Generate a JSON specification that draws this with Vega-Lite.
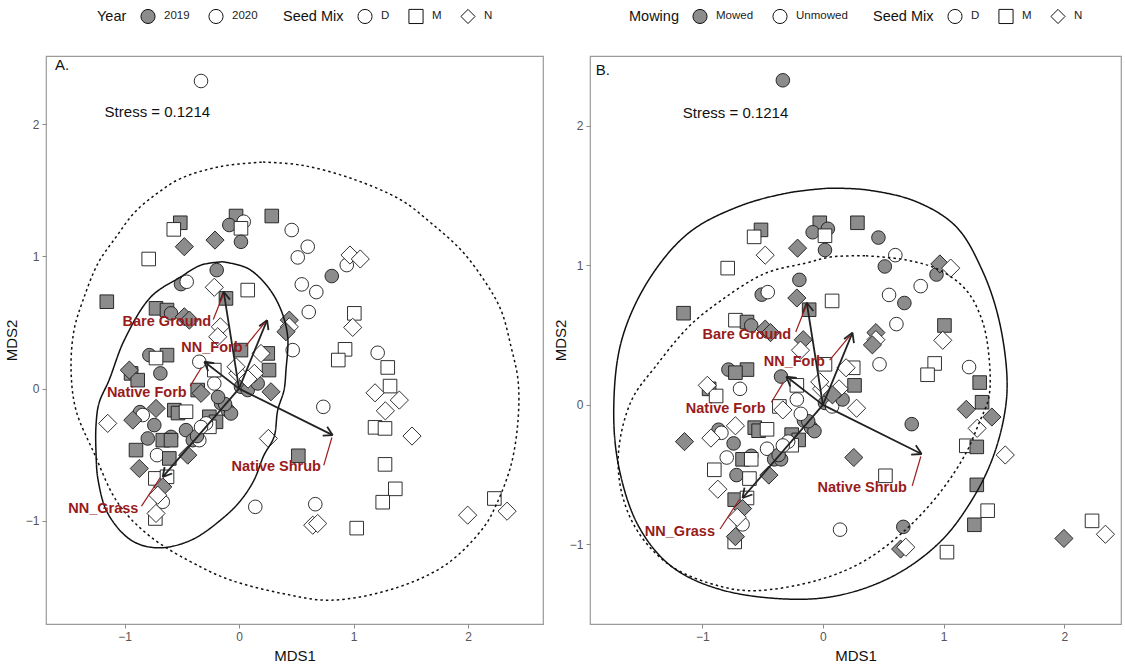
{
 "$schema": "https://vega.github.io/schema/vega-lite/v6.json",
 "padding": {"left": 3, "top": 7, "right": 2, "bottom": 2},
 "spacing": 8,
 "datasets": {
  "pts": [
   {"x":-0.332,"y":2.326,"m":"D","yr":"2020","mw":"Mowed"},
   {"x":-0.513,"y":1.254,"m":"M","yr":"2019","mw":"Mowed"},
   {"x":-0.570,"y":1.204,"m":"M","yr":"2020","mw":"Unmowed"},
   {"x":-0.026,"y":1.305,"m":"M","yr":"2019","mw":"Mowed"},
   {"x":-0.085,"y":1.237,"m":"D","yr":"2019","mw":"Mowed"},
   {"x":0.041,"y":1.262,"m":"D","yr":"2020","mw":"Mowed"},
   {"x":0.017,"y":1.212,"m":"M","yr":"2020","mw":"Unmowed"},
   {"x":0.017,"y":1.110,"m":"D","yr":"2019","mw":"Mowed"},
   {"x":0.286,"y":1.305,"m":"M","yr":"2019","mw":"Mowed"},
   {"x":0.460,"y":1.199,"m":"D","yr":"2020","mw":"Mowed"},
   {"x":-0.478,"y":1.073,"m":"N","yr":"2019","mw":"Unmowed"},
   {"x":-0.210,"y":1.123,"m":"N","yr":"2019","mw":"Mowed"},
   {"x":-0.789,"y":0.980,"m":"M","yr":"2020","mw":"Unmowed"},
   {"x":-0.195,"y":0.896,"m":"D","yr":"2019","mw":"Mowed"},
   {"x":-0.507,"y":0.790,"m":"D","yr":"2019","mw":"Mowed"},
   {"x":-0.457,"y":0.808,"m":"D","yr":"2020","mw":"Unmowed"},
   {"x":-0.216,"y":0.766,"m":"N","yr":"2020","mw":"Mowed"},
   {"x":-0.114,"y":0.682,"m":"M","yr":"2019","mw":"Mowed"},
   {"x":0.076,"y":0.745,"m":"M","yr":"2020","mw":"Unmowed"},
   {"x":-1.155,"y":0.657,"m":"M","yr":"2019","mw":"Mowed"},
   {"x":-0.725,"y":0.607,"m":"M","yr":"2019","mw":"Unmowed"},
   {"x":-0.629,"y":0.594,"m":"M","yr":"2019","mw":"Mowed"},
   {"x":-0.594,"y":0.569,"m":"D","yr":"2019","mw":"Mowed"},
   {"x":-0.478,"y":0.543,"m":"N","yr":"2019","mw":"Mowed"},
   {"x":-0.434,"y":0.518,"m":"N","yr":"2019","mw":"Mowed"},
   {"x":-0.163,"y":0.467,"m":"N","yr":"2020","mw":"Mowed"},
   {"x":-0.186,"y":0.392,"m":"N","yr":"2020","mw":"Unmowed"},
   {"x":0.439,"y":0.518,"m":"N","yr":"2019","mw":"Mowed"},
   {"x":0.439,"y":0.467,"m":"N","yr":"2020","mw":"Unmowed"},
   {"x":0.410,"y":0.430,"m":"N","yr":"2019","mw":"Mowed"},
   {"x":0.469,"y":0.291,"m":"D","yr":"2020","mw":"Unmowed"},
   {"x":0.017,"y":0.291,"m":"M","yr":"2019","mw":"Unmowed"},
   {"x":0.192,"y":0.266,"m":"N","yr":"2020","mw":"Unmowed"},
   {"x":0.251,"y":0.266,"m":"M","yr":"2019","mw":"Unmowed"},
   {"x":0.262,"y":0.140,"m":"M","yr":"2019","mw":"Mowed"},
   {"x":0.600,"y":1.073,"m":"D","yr":"2020","mw":"Unmowed"},
   {"x":0.513,"y":0.992,"m":"D","yr":"2020","mw":"Mowed"},
   {"x":0.810,"y":0.851,"m":"D","yr":"2019","mw":"Unmowed"},
   {"x":0.941,"y":0.934,"m":"D","yr":"2020","mw":"Mowed"},
   {"x":0.969,"y":1.010,"m":"N","yr":"2020","mw":"Mowed"},
   {"x":1.059,"y":0.980,"m":"N","yr":"2020","mw":"Unmowed"},
   {"x":0.548,"y":0.788,"m":"D","yr":"2020","mw":"Unmowed"},
   {"x":0.675,"y":0.730,"m":"D","yr":"2020","mw":"Mowed"},
   {"x":0.609,"y":0.579,"m":"D","yr":"2020","mw":"Unmowed"},
   {"x":1.007,"y":0.569,"m":"M","yr":"2020","mw":"Mowed"},
   {"x":0.993,"y":0.463,"m":"N","yr":"2020","mw":"Unmowed"},
   {"x":0.926,"y":0.297,"m":"M","yr":"2020","mw":"Unmowed"},
   {"x":0.867,"y":0.216,"m":"M","yr":"2020","mw":"Unmowed"},
   {"x":1.211,"y":0.271,"m":"D","yr":"2020","mw":"Unmowed"},
   {"x":1.299,"y":0.160,"m":"M","yr":"2020","mw":"Mowed"},
   {"x":1.188,"y":-0.032,"m":"N","yr":"2020","mw":"Mowed"},
   {"x":1.319,"y":0.019,"m":"M","yr":"2020","mw":"Mowed"},
   {"x":1.400,"y":-0.087,"m":"N","yr":"2020","mw":"Mowed"},
   {"x":1.278,"y":-0.168,"m":"N","yr":"2020","mw":"Unmowed"},
   {"x":1.188,"y":-0.293,"m":"M","yr":"2020","mw":"Unmowed"},
   {"x":1.275,"y":-0.301,"m":"M","yr":"2020","mw":"Mowed"},
   {"x":1.511,"y":-0.359,"m":"N","yr":"2020","mw":"Unmowed"},
   {"x":0.736,"y":-0.138,"m":"D","yr":"2020","mw":"Mowed"},
   {"x":0.256,"y":-0.377,"m":"N","yr":"2020","mw":"Mowed"},
   {"x":0.518,"y":-0.508,"m":"M","yr":"2019","mw":"Unmowed"},
   {"x":1.275,"y":-0.573,"m":"M","yr":"2020","mw":"Mowed"},
   {"x":1.365,"y":-0.758,"m":"M","yr":"2020","mw":"Unmowed"},
   {"x":1.255,"y":-0.859,"m":"M","yr":"2020","mw":"Mowed"},
   {"x":0.142,"y":-0.894,"m":"D","yr":"2020","mw":"Unmowed"},
   {"x":0.666,"y":-0.874,"m":"D","yr":"2020","mw":"Mowed"},
   {"x":0.644,"y":-1.033,"m":"N","yr":"2020","mw":"Mowed"},
   {"x":0.687,"y":-1.020,"m":"N","yr":"2020","mw":"Unmowed"},
   {"x":1.028,"y":-1.055,"m":"M","yr":"2020","mw":"Unmowed"},
   {"x":2.230,"y":-0.831,"m":"M","yr":"2020","mw":"Unmowed"},
   {"x":1.997,"y":-0.957,"m":"N","yr":"2020","mw":"Mowed"},
   {"x":2.341,"y":-0.927,"m":"N","yr":"2020","mw":"Unmowed"},
   {"x":-0.943,"y":0.115,"m":"M","yr":"2019","mw":"Mowed"},
   {"x":-0.885,"y":0.064,"m":"M","yr":"2019","mw":"Unmowed"},
   {"x":-0.687,"y":0.115,"m":"D","yr":"2019","mw":"Unmowed"},
   {"x":-0.332,"y":-0.036,"m":"N","yr":"2019","mw":"Unmowed"},
   {"x":-0.361,"y":-0.011,"m":"M","yr":"2019","mw":"Unmowed"},
   {"x":-0.011,"y":0.115,"m":"N","yr":"2020","mw":"Unmowed"},
   {"x":0.279,"y":-0.024,"m":"N","yr":"2019","mw":"Unmowed"},
   {"x":-1.147,"y":-0.263,"m":"N","yr":"2020","mw":"Mowed"},
   {"x":-0.725,"y":-0.150,"m":"N","yr":"2019","mw":"Unmowed"},
   {"x":-0.928,"y":-0.238,"m":"N","yr":"2019","mw":"Unmowed"},
   {"x":-0.865,"y":-0.178,"m":"D","yr":"2019","mw":"Mowed"},
   {"x":-0.841,"y":-0.200,"m":"D","yr":"2020","mw":"Unmowed"},
   {"x":-0.565,"y":-0.163,"m":"M","yr":"2019","mw":"Mowed"},
   {"x":-0.533,"y":-0.185,"m":"M","yr":"2019","mw":"Mowed"},
   {"x":-0.463,"y":-0.175,"m":"M","yr":"2020","mw":"Unmowed"},
   {"x":-0.740,"y":-0.276,"m":"D","yr":"2019","mw":"Mowed"},
   {"x":-0.797,"y":-0.377,"m":"D","yr":"2019","mw":"Unmowed"},
   {"x":-0.594,"y":-0.365,"m":"D","yr":"2019","mw":"Mowed"},
   {"x":-0.463,"y":-0.314,"m":"D","yr":"2019","mw":"Unmowed"},
   {"x":-0.404,"y":-0.390,"m":"D","yr":"2019","mw":"Mowed"},
   {"x":-0.666,"y":-0.390,"m":"M","yr":"2019","mw":"Mowed"},
   {"x":-0.594,"y":-0.390,"m":"M","yr":"2019","mw":"Unmowed"},
   {"x":-0.347,"y":-0.390,"m":"D","yr":"2020","mw":"Mowed"},
   {"x":-0.716,"y":-0.503,"m":"D","yr":"2020","mw":"Mowed"},
   {"x":-0.900,"y":-0.465,"m":"M","yr":"2019","mw":"Unmowed"},
   {"x":-0.609,"y":-0.528,"m":"M","yr":"2019","mw":"Unmowed"},
   {"x":-0.448,"y":-0.503,"m":"N","yr":"2019","mw":"Mowed"},
   {"x":-0.871,"y":-0.604,"m":"N","yr":"2019","mw":"Unmowed"},
   {"x":-0.731,"y":-0.679,"m":"M","yr":"2020","mw":"Mowed"},
   {"x":-0.629,"y":-0.667,"m":"M","yr":"2020","mw":"Unmowed"},
   {"x":-0.666,"y":-0.743,"m":"N","yr":"2019","mw":"Mowed"},
   {"x":-0.710,"y":-0.806,"m":"N","yr":"2020","mw":"Unmowed"},
   {"x":-0.666,"y":-0.856,"m":"D","yr":"2020","mw":"Unmowed"},
   {"x":-0.725,"y":-0.944,"m":"N","yr":"2020","mw":"Mowed"},
   {"x":-0.731,"y":-0.982,"m":"M","yr":"2020","mw":"Unmowed"},
   {"x":-0.259,"y":-0.213,"m":"M","yr":"2019","mw":"Mowed"},
   {"x":-0.201,"y":-0.251,"m":"M","yr":"2019","mw":"Mowed"},
   {"x":-0.259,"y":-0.289,"m":"M","yr":"2020","mw":"Unmowed"},
   {"x":-0.288,"y":-0.263,"m":"D","yr":"2020","mw":"Unmowed"},
   {"x":-0.157,"y":-0.112,"m":"D","yr":"2019","mw":"Mowed"},
   {"x":-0.099,"y":-0.163,"m":"D","yr":"2019","mw":"Mowed"},
   {"x":-0.070,"y":-0.188,"m":"D","yr":"2019","mw":"Mowed"},
   {"x":0.017,"y":0.014,"m":"D","yr":"2019","mw":"Mowed"},
   {"x":0.076,"y":-0.011,"m":"D","yr":"2019","mw":"Unmowed"},
   {"x":0.163,"y":0.039,"m":"D","yr":"2019","mw":"Mowed"},
   {"x":-0.216,"y":0.039,"m":"D","yr":"2020","mw":"Unmowed"},
   {"x":-0.347,"y":0.203,"m":"D","yr":"2020","mw":"Mowed"},
   {"x":-0.216,"y":0.140,"m":"M","yr":"2020","mw":"Unmowed"},
   {"x":-0.026,"y":0.165,"m":"N","yr":"2020","mw":"Unmowed"},
   {"x":0.134,"y":0.115,"m":"N","yr":"2020","mw":"Unmowed"},
   {"x":-0.783,"y":0.253,"m":"D","yr":"2019","mw":"Mowed"},
   {"x":-0.629,"y":0.253,"m":"M","yr":"2019","mw":"Mowed"},
   {"x":-0.725,"y":0.231,"m":"M","yr":"2020","mw":"Mowed"},
   {"x":-0.958,"y":0.140,"m":"N","yr":"2019","mw":"Unmowed"},
   {"x":-0.367,"y":-0.359,"m":"D","yr":"2019","mw":"Mowed"},
   {"x":-0.332,"y":-0.291,"m":"D","yr":"2020","mw":"Unmowed"},
   {"x":-0.122,"y":-0.117,"m":"D","yr":"2019","mw":"Mowed"},
   {"x":-0.183,"y":-0.064,"m":"D","yr":"2019","mw":"Unmowed"},
   {"x":0.079,"y":0.072,"m":"N","yr":"2020","mw":"Mowed"}
  ],
  "ell": [
   {"p":"A","e":"s","i":0,"x":-0.142,"y":0.959},
   {"p":"A","e":"s","i":1,"x":0.076,"y":0.909},
   {"p":"A","e":"s","i":2,"x":0.251,"y":0.770},
   {"p":"A","e":"s","i":3,"x":0.367,"y":0.594},
   {"p":"A","e":"s","i":4,"x":0.425,"y":0.392},
   {"p":"A","e":"s","i":5,"x":0.410,"y":0.140},
   {"p":"A","e":"s","i":6,"x":0.393,"y":-0.011},
   {"p":"A","e":"s","i":7,"x":0.338,"y":-0.163},
   {"p":"A","e":"s","i":8,"x":0.306,"y":-0.365},
   {"p":"A","e":"s","i":9,"x":0.218,"y":-0.503},
   {"p":"A","e":"s","i":10,"x":0.131,"y":-0.692},
   {"p":"A","e":"s","i":11,"x":0.017,"y":-0.843},
   {"p":"A","e":"s","i":12,"x":-0.128,"y":-0.970},
   {"p":"A","e":"s","i":13,"x":-0.419,"y":-1.146},
   {"p":"A","e":"s","i":14,"x":-0.710,"y":-1.204},
   {"p":"A","e":"s","i":15,"x":-0.943,"y":-1.146},
   {"p":"A","e":"s","i":16,"x":-1.147,"y":-0.942},
   {"p":"A","e":"s","i":17,"x":-1.231,"y":-0.692},
   {"p":"A","e":"s","i":18,"x":-1.249,"y":-0.488},
   {"p":"A","e":"s","i":19,"x":-1.249,"y":-0.276},
   {"p":"A","e":"s","i":20,"x":-1.223,"y":-0.110},
   {"p":"A","e":"s","i":21,"x":-1.135,"y":0.064},
   {"p":"A","e":"s","i":22,"x":-1.002,"y":0.367},
   {"p":"A","e":"s","i":23,"x":-0.769,"y":0.694},
   {"p":"A","e":"s","i":24,"x":-0.507,"y":0.846},
   {"p":"A","e":"s","i":25,"x":-0.332,"y":0.934},
   {"p":"A","e":"s","i":26,"x":-0.142,"y":0.959},
   {"p":"A","e":"d","i":0,"x":0.210,"y":1.713},
   {"p":"A","e":"d","i":1,"x":0.541,"y":1.690},
   {"p":"A","e":"d","i":2,"x":0.978,"y":1.590},
   {"p":"A","e":"d","i":3,"x":1.415,"y":1.426},
   {"p":"A","e":"d","i":4,"x":1.677,"y":1.252},
   {"p":"A","e":"d","i":5,"x":1.939,"y":1.048},
   {"p":"A","e":"d","i":6,"x":2.140,"y":0.820},
   {"p":"A","e":"d","i":7,"x":2.288,"y":0.594},
   {"p":"A","e":"d","i":8,"x":2.376,"y":0.316},
   {"p":"A","e":"d","i":9,"x":2.437,"y":0.064},
   {"p":"A","e":"d","i":10,"x":2.437,"y":-0.238},
   {"p":"A","e":"d","i":11,"x":2.376,"y":-0.578},
   {"p":"A","e":"d","i":12,"x":2.245,"y":-0.881},
   {"p":"A","e":"d","i":13,"x":2.140,"y":-1.045},
   {"p":"A","e":"d","i":14,"x":1.825,"y":-1.320},
   {"p":"A","e":"d","i":15,"x":1.389,"y":-1.502},
   {"p":"A","e":"d","i":16,"x":0.803,"y":-1.600},
   {"p":"A","e":"d","i":17,"x":0.367,"y":-1.547},
   {"p":"A","e":"d","i":18,"x":-0.070,"y":-1.449},
   {"p":"A","e":"d","i":19,"x":-0.332,"y":-1.350},
   {"p":"A","e":"d","i":20,"x":-0.769,"y":-1.123},
   {"p":"A","e":"d","i":21,"x":-1.057,"y":-0.866},
   {"p":"A","e":"d","i":22,"x":-1.266,"y":-0.488},
   {"p":"A","e":"d","i":23,"x":-1.424,"y":-0.163},
   {"p":"A","e":"d","i":24,"x":-1.467,"y":0.140},
   {"p":"A","e":"d","i":25,"x":-1.441,"y":0.443},
   {"p":"A","e":"d","i":26,"x":-1.362,"y":0.670},
   {"p":"A","e":"d","i":27,"x":-1.231,"y":0.949},
   {"p":"A","e":"d","i":28,"x":-1.074,"y":1.146},
   {"p":"A","e":"d","i":29,"x":-0.917,"y":1.328},
   {"p":"A","e":"d","i":30,"x":-0.725,"y":1.470},
   {"p":"A","e":"d","i":31,"x":-0.507,"y":1.590},
   {"p":"A","e":"d","i":32,"x":-0.157,"y":1.680},
   {"p":"A","e":"d","i":33,"x":0.210,"y":1.713},
   {"p":"B","e":"s","i":0,"x":0.050,"y":1.553},
   {"p":"B","e":"s","i":1,"x":0.357,"y":1.541},
   {"p":"B","e":"s","i":2,"x":0.771,"y":1.457},
   {"p":"B","e":"s","i":3,"x":1.103,"y":1.278},
   {"p":"B","e":"s","i":4,"x":1.318,"y":0.968},
   {"p":"B","e":"s","i":5,"x":1.459,"y":0.609},
   {"p":"B","e":"s","i":6,"x":1.526,"y":0.179},
   {"p":"B","e":"s","i":7,"x":1.501,"y":-0.084},
   {"p":"B","e":"s","i":8,"x":1.401,"y":-0.394},
   {"p":"B","e":"s","i":9,"x":1.235,"y":-0.681},
   {"p":"B","e":"s","i":10,"x":0.987,"y":-0.968},
   {"p":"B","e":"s","i":11,"x":0.630,"y":-1.204},
   {"p":"B","e":"s","i":12,"x":0.216,"y":-1.348},
   {"p":"B","e":"s","i":13,"x":-0.199,"y":-1.393},
   {"p":"B","e":"s","i":14,"x":-0.837,"y":-1.326},
   {"p":"B","e":"s","i":15,"x":-1.252,"y":-1.159},
   {"p":"B","e":"s","i":16,"x":-1.526,"y":-0.872},
   {"p":"B","e":"s","i":17,"x":-1.692,"y":-0.442},
   {"p":"B","e":"s","i":18,"x":-1.733,"y":-0.012},
   {"p":"B","e":"s","i":19,"x":-1.667,"y":0.466},
   {"p":"B","e":"s","i":20,"x":-1.443,"y":0.896},
   {"p":"B","e":"s","i":21,"x":-1.111,"y":1.233},
   {"p":"B","e":"s","i":22,"x":-0.697,"y":1.422},
   {"p":"B","e":"s","i":23,"x":-0.282,"y":1.520},
   {"p":"B","e":"s","i":24,"x":0.050,"y":1.553},
   {"p":"B","e":"d","i":0,"x":0.357,"y":1.068},
   {"p":"B","e":"d","i":1,"x":0.688,"y":1.039},
   {"p":"B","e":"d","i":2,"x":0.962,"y":0.968},
   {"p":"B","e":"d","i":3,"x":1.186,"y":0.824},
   {"p":"B","e":"d","i":4,"x":1.318,"y":0.609},
   {"p":"B","e":"d","i":5,"x":1.376,"y":0.346},
   {"p":"B","e":"d","i":6,"x":1.376,"y":0.059},
   {"p":"B","e":"d","i":7,"x":1.294,"y":-0.129},
   {"p":"B","e":"d","i":8,"x":1.186,"y":-0.344},
   {"p":"B","e":"d","i":9,"x":0.987,"y":-0.609},
   {"p":"B","e":"d","i":10,"x":0.713,"y":-0.872},
   {"p":"B","e":"d","i":11,"x":0.357,"y":-1.111},
   {"p":"B","e":"d","i":12,"x":-0.033,"y":-1.254},
   {"p":"B","e":"d","i":13,"x":-0.556,"y":-1.331},
   {"p":"B","e":"d","i":14,"x":-0.837,"y":-1.303},
   {"p":"B","e":"d","i":15,"x":-1.252,"y":-1.159},
   {"p":"B","e":"d","i":16,"x":-1.526,"y":-0.918},
   {"p":"B","e":"d","i":17,"x":-1.667,"y":-0.631},
   {"p":"B","e":"d","i":18,"x":-1.692,"y":-0.323},
   {"p":"B","e":"d","i":19,"x":-1.584,"y":0.036},
   {"p":"B","e":"d","i":20,"x":-1.387,"y":0.275},
   {"p":"B","e":"d","i":21,"x":-1.111,"y":0.561},
   {"p":"B","e":"d","i":22,"x":-0.837,"y":0.753},
   {"p":"B","e":"d","i":23,"x":-0.475,"y":0.944},
   {"p":"B","e":"d","i":24,"x":-0.143,"y":1.016},
   {"p":"B","e":"d","i":25,"x":0.075,"y":1.061},
   {"p":"B","e":"d","i":26,"x":0.357,"y":1.068}
  ],
  "arr": [
   {"x":0,"y":0,"x2":-0.134,"y2":0.732},
   {"x":0,"y":0,"x2":0.245,"y2":0.518},
   {"x":0,"y":0,"x2":-0.303,"y2":0.203},
   {"x":0,"y":0,"x2":0.818,"y2":-0.352},
   {"x":0,"y":0,"x2":-0.666,"y2":-0.667},
   {"x":-0.134,"y":0.732,"x2":-0.165,"y2":0.662},
   {"x":-0.134,"y":0.732,"x2":-0.079,"y2":0.673},
   {"x":0.245,"y":0.518,"x2":0.176,"y2":0.472},
   {"x":0.245,"y":0.518,"x2":0.257,"y2":0.443},
   {"x":-0.303,"y":0.203,"x2":-0.270,"y2":0.132},
   {"x":-0.303,"y":0.203,"x2":-0.217,"y2":0.193},
   {"x":0.818,"y":-0.352,"x2":0.770,"y2":-0.289},
   {"x":0.818,"y":-0.352,"x2":0.731,"y2":-0.356},
   {"x":-0.666,"y":-0.667,"x2":-0.584,"y2":-0.642},
   {"x":-0.666,"y":-0.667,"x2":-0.650,"y2":-0.593}
  ],
  "lead": [
   {"x":-0.225,"y":0.522,"x2":-0.138,"y2":0.712},
   {"x":0.056,"y":0.320,"x2":0.226,"y2":0.498},
   {"x":-0.427,"y":0.019,"x2":-0.328,"y2":0.160},
   {"x":0.740,"y":-0.580,"x2":0.811,"y2":-0.370},
   {"x":-0.852,"y":-0.889,"x2":-0.689,"y2":-0.674}
  ],
  "lab": [
   {"x":-0.630,"y":0.503,"t":"Bare Ground"},
   {"x":-0.237,"y":0.305,"t":"NN_Forb"},
   {"x":-0.806,"y":-0.031,"t":"Native Forb"},
   {"x":0.325,"y":-0.592,"t":"Native Shrub"},
   {"x":-1.185,"y":-0.910,"t":"NN_Grass"}
  ],
  "ann": [
   {"p":"A","x":-1.607,"y":2.447,"t":"A."},
   {"p":"A","x":-1.174,"y":2.094,"t":"Stress = 0.1214"},
   {"p":"B","x":-1.882,"y":2.401,"t":"B."},
   {"p":"B","x":-1.161,"y":2.093,"t":"Stress = 0.1214"}
  ]
 },
 "resolve": {
  "scale": {"x": "independent", "y": "independent", "color": "independent", "shape": "independent", "strokeDash": "independent"},
  "legend": {"color": "independent", "shape": "independent"}
 },
 "hconcat": [
  {
   "width": 497, "height": 568,
   "encoding": {
    "x": {"field": "x", "type": "quantitative", "title": "MDS1", "scale": {"domain": [-1.686, 2.655], "nice": false, "zero": false}, "axis": {"values": [-1, 0, 1, 2]}},
    "y": {"field": "y", "type": "quantitative", "title": "MDS2", "scale": {"domain": [-1.78, 2.515], "nice": false, "zero": false}, "axis": {"values": [-1, 0, 1, 2]}},
    "color": {"field": "yr", "type": "nominal", "title": "Year", "scale": {"domain": ["2019", "2020"], "range": ["#8c8c8c", "#ffffff"]}, "legend": {"symbolType": "circle"}},
    "shape": {"field": "m", "type": "nominal", "title": "Seed Mix", "scale": {"domain": ["D", "M", "N"], "range": ["circle", "square", "diamond"]}, "legend": {"symbolFillColor": "#ffffff"}}
   },
   "layer": [
    {"data": {"name": "pts"}, "transform": [{"filter": "datum.m !== 'N'"}], "mark": {"type": "point", "filled": true, "stroke": "#1a1a1a", "strokeWidth": 0.9, "opacity": 1, "size": 185}},
    {"data": {"name": "pts"}, "transform": [{"filter": "datum.m === 'N'"}], "mark": {"type": "point", "filled": true, "stroke": "#1a1a1a", "strokeWidth": 0.9, "opacity": 1, "size": 330}},
    {"data": {"name": "ell"}, "transform": [{"filter": "datum.p === 'A'"}], "mark": {"type": "line", "color": "#111111", "strokeWidth": 1.5, "interpolate": "catmull-rom"},
     "encoding": {"color": null, "shape": null, "order": {"field": "i", "type": "quantitative"}, "detail": {"field": "e", "type": "nominal"}, "strokeDash": {"field": "e", "type": "nominal", "scale": {"domain": ["s", "d"], "range": [[1, 0], [2.5, 3]]}, "legend": null}}},
    {"data": {"name": "arr"}, "mark": {"type": "rule", "color": "#222222", "strokeWidth": 1.8}, "encoding": {"color": null, "shape": null, "x2": {"field": "x2"}, "y2": {"field": "y2"}}},
    {"data": {"name": "lead"}, "mark": {"type": "rule", "color": "#9b1c1c", "strokeWidth": 1.2}, "encoding": {"color": null, "shape": null, "x2": {"field": "x2"}, "y2": {"field": "y2"}}},
    {"data": {"name": "lab"}, "mark": {"type": "text", "color": "#981b1b", "fontWeight": "bold", "fontSize": 14.5, "baseline": "middle", "align": "center"}, "encoding": {"color": null, "shape": null, "text": {"field": "t"}}},
    {"data": {"name": "ann"}, "transform": [{"filter": "datum.p === 'A'"}], "mark": {"type": "text", "align": "left", "baseline": "middle", "fontSize": 15, "color": "#111111"}, "encoding": {"color": null, "shape": null, "text": {"field": "t"}}}
   ]
  },
  {
   "width": 531, "height": 568,
   "encoding": {
    "x": {"field": "x", "type": "quantitative", "title": "MDS1", "scale": {"domain": [-1.93, 2.47], "nice": false, "zero": false}, "axis": {"values": [-1, 0, 1, 2]}},
    "y": {"field": "y", "type": "quantitative", "title": "MDS2", "scale": {"domain": [-1.57, 2.5], "nice": false, "zero": false}, "axis": {"values": [-1, 0, 1, 2], "titlePadding": 1}},
    "color": {"field": "mw", "type": "nominal", "title": "Mowing", "scale": {"domain": ["Mowed", "Unmowed"], "range": ["#8c8c8c", "#ffffff"]}, "legend": {"symbolType": "circle"}},
    "shape": {"field": "m", "type": "nominal", "title": "Seed Mix", "scale": {"domain": ["D", "M", "N"], "range": ["circle", "square", "diamond"]}, "legend": {"symbolFillColor": "#ffffff"}}
   },
   "layer": [
    {"data": {"name": "pts"}, "transform": [{"filter": "datum.m !== 'N'"}], "mark": {"type": "point", "filled": true, "stroke": "#1a1a1a", "strokeWidth": 0.9, "opacity": 1, "size": 185}},
    {"data": {"name": "pts"}, "transform": [{"filter": "datum.m === 'N'"}], "mark": {"type": "point", "filled": true, "stroke": "#1a1a1a", "strokeWidth": 0.9, "opacity": 1, "size": 330}},
    {"data": {"name": "ell"}, "transform": [{"filter": "datum.p === 'B'"}], "mark": {"type": "line", "color": "#111111", "strokeWidth": 1.5, "interpolate": "catmull-rom"},
     "encoding": {"color": null, "shape": null, "order": {"field": "i", "type": "quantitative"}, "detail": {"field": "e", "type": "nominal"}, "strokeDash": {"field": "e", "type": "nominal", "scale": {"domain": ["s", "d"], "range": [[1, 0], [2.5, 3]]}, "legend": null}}},
    {"data": {"name": "arr"}, "mark": {"type": "rule", "color": "#222222", "strokeWidth": 1.8}, "encoding": {"color": null, "shape": null, "x2": {"field": "x2"}, "y2": {"field": "y2"}}},
    {"data": {"name": "lead"}, "mark": {"type": "rule", "color": "#9b1c1c", "strokeWidth": 1.2}, "encoding": {"color": null, "shape": null, "x2": {"field": "x2"}, "y2": {"field": "y2"}}},
    {"data": {"name": "lab"}, "mark": {"type": "text", "color": "#981b1b", "fontWeight": "bold", "fontSize": 14.5, "baseline": "middle", "align": "center"}, "encoding": {"color": null, "shape": null, "text": {"field": "t"}}},
    {"data": {"name": "ann"}, "transform": [{"filter": "datum.p === 'B'"}], "mark": {"type": "text", "align": "left", "baseline": "middle", "fontSize": 15, "color": "#111111"}, "encoding": {"color": null, "shape": null, "text": {"field": "t"}}}
   ]
  }
 ],
 "config": {
  "font": "Liberation Sans",
  "view": {"stroke": "#9a9a9a", "strokeWidth": 1.2},
  "axis": {"grid": false, "domain": false, "ticks": true, "tickColor": "#8a8a8a", "tickSize": 4, "labelColor": "#555555", "labelFontSize": 12, "labelPadding": 3, "titleFontSize": 15, "titleFontWeight": "normal", "titleColor": "#111111", "titlePadding": 6},
  "legend": {"orient": "top", "direction": "horizontal", "titleOrient": "left", "titleFontSize": 14.5, "titleFontWeight": "normal", "titleColor": "#111111", "titlePadding": 13, "labelFontSize": 11.5, "labelColor": "#222222", "labelOffset": 8, "symbolStrokeColor": "#111111", "symbolStrokeWidth": 1, "symbolSize": 200, "offset": 30, "columnPadding": 16, "layout": {"top": {"anchor": "middle", "margin": 25}}}
 }
}
